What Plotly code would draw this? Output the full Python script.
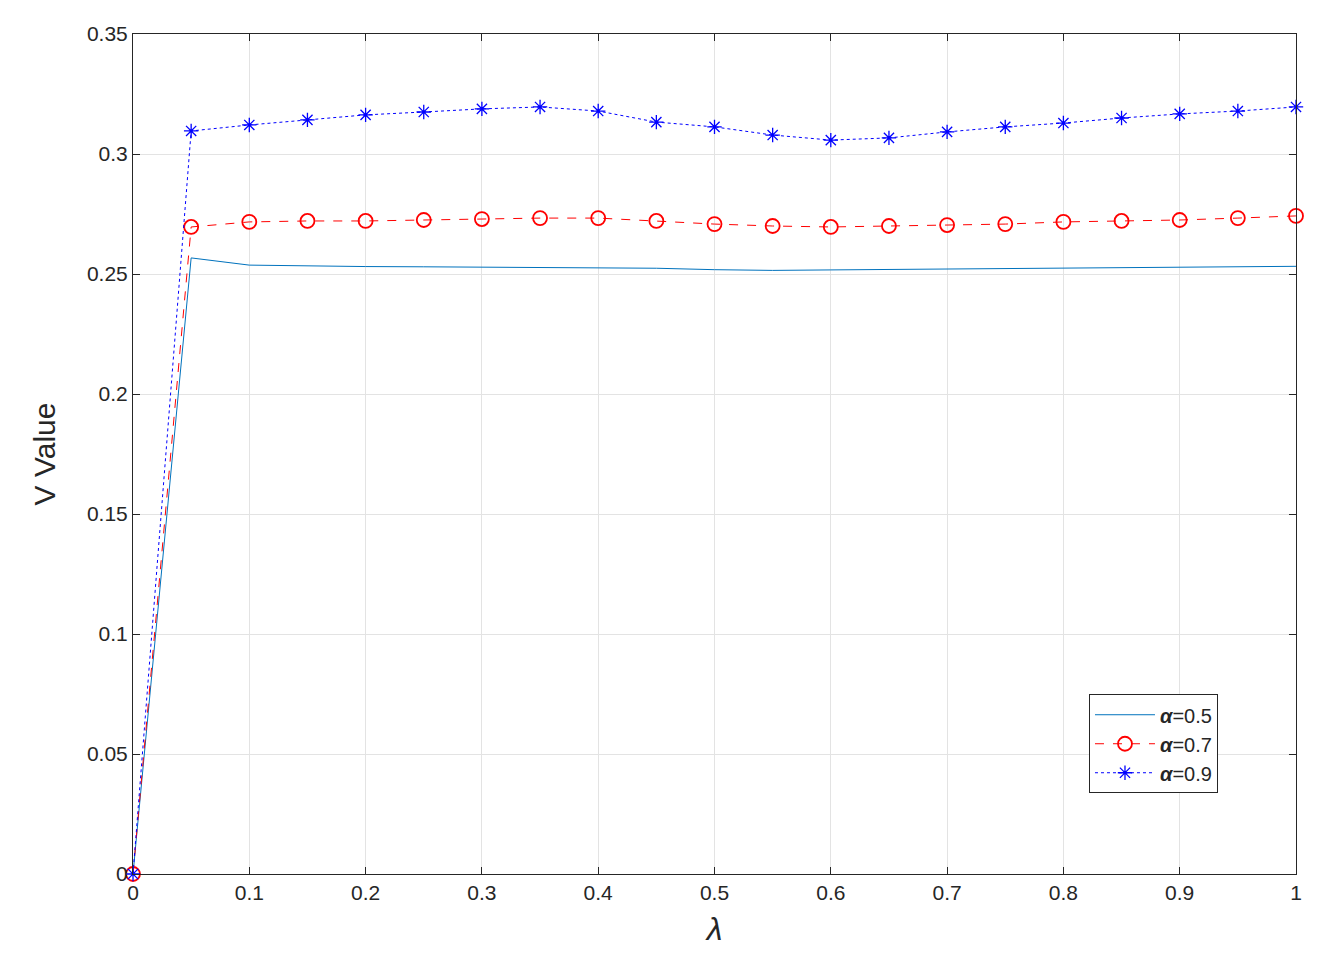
import plotly.graph_objects as go

lam = [0, 0.05, 0.1, 0.15, 0.2, 0.25, 0.3, 0.35, 0.4, 0.45, 0.5,
       0.55, 0.6, 0.65, 0.7, 0.75, 0.8, 0.85, 0.9, 0.95, 1.0]
v_a05 = [0, 0.2567, 0.2537, 0.2533, 0.2531, 0.2530, 0.2529, 0.2528, 0.2527, 0.2524, 0.2518,
         0.2515, 0.2517, 0.2519, 0.2520, 0.2521, 0.2523, 0.2525, 0.2527, 0.2529, 0.2532]
v_a07 = [0, 0.2696, 0.2717, 0.2721, 0.2721, 0.2725, 0.2729, 0.2733, 0.2733, 0.2721, 0.2708,
         0.2700, 0.2696, 0.2700, 0.2704, 0.2708, 0.2717, 0.2721, 0.2725, 0.2733, 0.2742]
v_a09 = [0, 0.3096, 0.3121, 0.3142, 0.3163, 0.3175, 0.3188, 0.3196, 0.3179, 0.3133, 0.3113,
         0.3079, 0.3058, 0.3067, 0.3092, 0.3113, 0.3129, 0.3150, 0.3167, 0.3179, 0.3196]

fig = go.Figure()
fig.add_trace(go.Scatter(x=lam, y=v_a05, mode='lines', name='<b><i>α</i></b>=0.5',
                         line=dict(color='#0072BD', width=1), cliponaxis=False))
fig.add_trace(go.Scatter(x=lam, y=v_a07, mode='lines+markers', name='<b><i>α</i></b>=0.7',
                         line=dict(color='red', width=1, dash='dash'), cliponaxis=False,
                         marker=dict(symbol='circle-open', size=14, color='red', line=dict(width=1.8))))
fig.add_trace(go.Scatter(x=lam, y=v_a09, mode='lines+markers', name='<b><i>α</i></b>=0.9',
                         line=dict(color='blue', width=1, dash='dot'), cliponaxis=False,
                         marker=dict(symbol='asterisk-open', size=12, color='blue', line=dict(width=1.3, color='blue'))))

ax = dict(showline=True, linecolor='#262626', linewidth=1, mirror='allticks', ticks='inside',
          ticklen=7, tickcolor='#262626', gridcolor='#e3e3e3', zeroline=False, automargin=False,
          tickfont=dict(size=21, color='#262626'))
fig.update_layout(
    width=1322, height=967, plot_bgcolor='white', paper_bgcolor='white',
    font=dict(family='Liberation Sans, Arial, sans-serif', color='#262626'),
    margin=dict(l=125, r=34, t=26, b=101),
    xaxis=dict(ax, range=[0, 1], dtick=0.1, tickformat='~g',
               title=dict(text='<i>λ</i>', font=dict(size=32), standoff=14)),
    yaxis=dict(ax, range=[0, 0.35], dtick=0.05, tickformat='~g',
               title=dict(text='V Value', font=dict(size=30), standoff=22)),
    legend=dict(x=0.822, y=0.214, xanchor='left', yanchor='top', bgcolor='white',
                bordercolor='#262626', borderwidth=1, font=dict(size=20), tracegroupgap=4,
                itemwidth=60),
    showlegend=True,
)
fig.write_html("out.html")
